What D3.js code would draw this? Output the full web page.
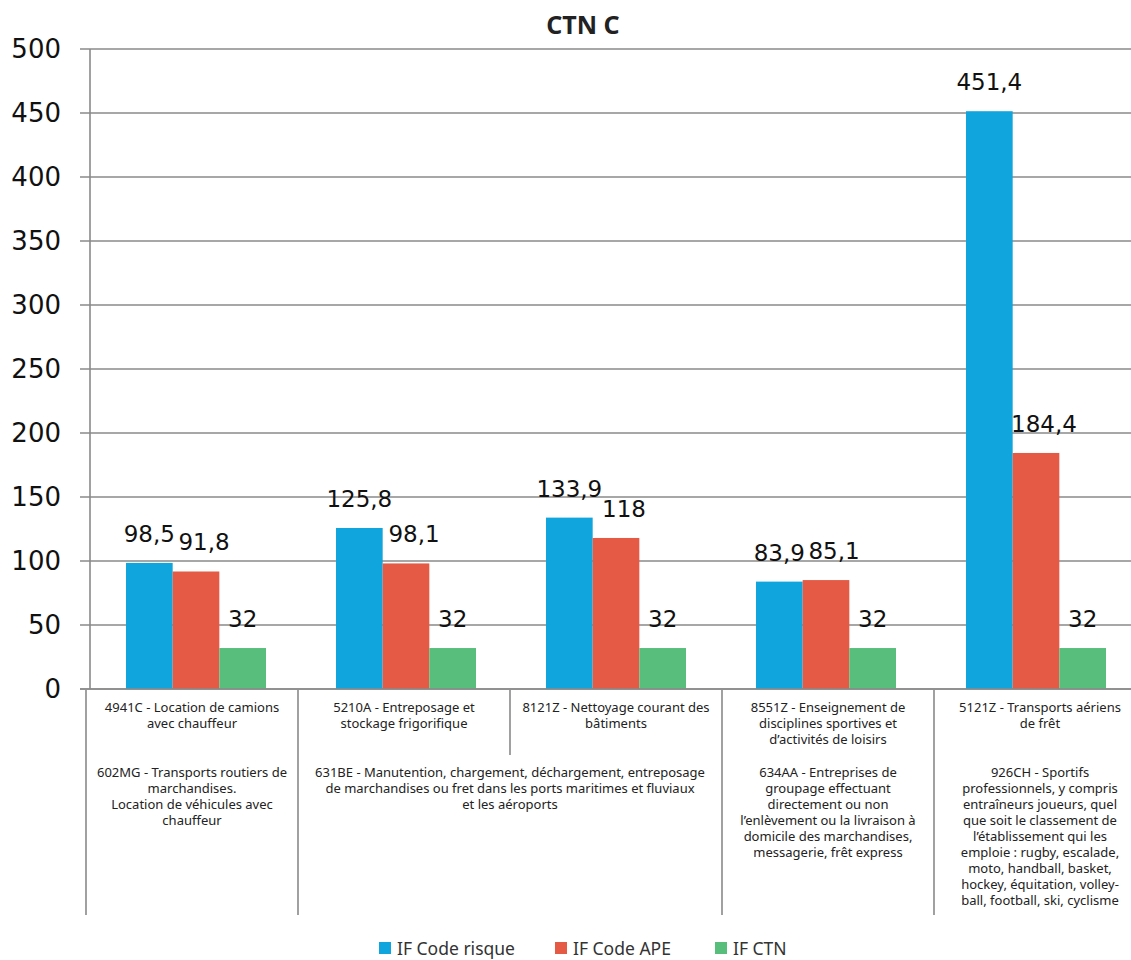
<!DOCTYPE html>
<html>
<head>
<meta charset="utf-8">
<script src="https://cdn.jsdelivr.net/npm/d3@7"></script>
<style>
  body { margin: 0; background: #fff; }
  .cat { font-family: "Noto Sans", sans-serif; font-size: 13px; fill: #222; }
</style>
</head>
<body>
<div id="chart"></div>
<script>
// data
const categories = ['4941C', '5210A', '8121Z', '8551Z', '5121Z'];
const series = ['IF Code risque', 'IF Code APE', 'IF CTN'];
const ifCodeRisque = [98.5, 125.8, 133.9, 83.9, 451.4];
const ifCodeApe = [91.8, 98.1, 118, 85.1, 184.4];
const ifCtn = [32, 32, 32, 32, 32];
const yTicks = [0, 50, 100, 150, 200, 250, 300, 350, 400, 450, 500];

// first level labels (one per category)
const catLabels = [
  ['4941C - Location de camions', 'avec chauffeur'],
  ['5210A - Entreposage et', 'stockage frigorifique'],
  ['8121Z - Nettoyage courant des', 'bâtiments'],
  ['8551Z - Enseignement de', 'disciplines sportives et', 'd’activités de loisirs'],
  ['5121Z - Transports aériens', 'de frêt']
];
// second level labels (spanning categories)
const groupLabels = [
  { from: 0, to: 0, lines: ['602MG - Transports routiers de', 'marchandises.', 'Location de véhicules avec', 'chauffeur'] },
  { from: 1, to: 2, lines: ['631BE - Manutention, chargement, déchargement, entreposage', 'de marchandises ou fret dans les ports maritimes et fluviaux', 'et les aéroports'] },
  { from: 3, to: 3, lines: ['634AA - Entreprises de', 'groupage effectuant', 'directement ou non', 'l’enlèvement ou la livraison à', 'domicile des marchandises,', 'messagerie, frêt express'] },
  { from: 4, to: 4, lines: ['926CH - Sportifs', 'professionnels, y compris', 'entraîneurs joueurs, quel', 'que soit le classement de', 'l’établissement qui les', 'emploie : rugby, escalade,', 'moto, handball, basket,', 'hockey, équitation, volley-', 'ball, football, ski, cyclisme'] }
];

const colors = ['#10a5dd', '#e55a45', '#57bf7b'];
const values = [ifCodeRisque, ifCodeApe, ifCtn];

const width = 1131;
const height = 960;
const plotTop = 49;
const plotBottom = 689;

const svg = d3.select('#chart')
  .append('svg')
  .attr('width', width)
  .attr('height', height);

// scale for the bars
const x = d3.scaleBand()
  .domain(categories)
  .range([91, 91 + 210 * categories.length]);

const x1 = d3.scaleBand()
  .domain(series)
  .range([35, 175]);

// scale for the category label cells
const xCell = d3.scaleBand()
  .domain(categories)
  .range([86, 86 + 212 * categories.length]);

const y = d3.scaleLinear()
  .domain([0, 500])
  .range([plotBottom, plotTop]);

// gridlines
svg.append('g')
  .selectAll('line')
  .data(yTicks)
  .enter().append('line')
  .attr('x1', 80)
  .attr('x2', width)
  .attr('y1', d => y(d))
  .attr('y2', d => y(d))
  .attr('stroke', '#8a8a8a')
  .attr('stroke-width', 1.6);

// y axis line
svg.append('line')
  .attr('x1', 90).attr('x2', 90)
  .attr('y1', y(500)).attr('y2', y(0))
  .attr('stroke', '#8a8a8a')
  .attr('stroke-width', 1.6);

// y tick labels
svg.append('g')
  .selectAll('text')
  .data(yTicks)
  .enter().append('text')
  .attr('x', 61)
  .attr('y', d => y(d) + 9)
  .attr('text-anchor', 'end')
  .style('font-family', 'DejaVu Sans, sans-serif')
  .style('font-size', '26px')
  .style('fill', '#111')
  .text(d => d);

// bars
const groups = svg.selectAll('.grp')
  .data(categories)
  .enter().append('g')
  .attr('class', 'grp')
  .attr('transform', d => `translate(${x(d)},0)`);

series.forEach((s, si) => {
  groups.append('rect')
    .attr('x', x1(s))
    .attr('width', x1.bandwidth())
    .attr('y', (d, i) => y(values[si][i]))
    .attr('height', (d, i) => y(0) - y(values[si][i]))
    .attr('fill', colors[si]);

  groups.append('text')
    .attr('x', x1(s) + x1.bandwidth() / 2 + (si === 1 ? 8 : 0))
    .attr('y', (d, i) => y(values[si][i]) - 21)
    .attr('text-anchor', 'middle')
    .style('font-family', 'DejaVu Sans, sans-serif')
    .style('font-size', '23px')
    .style('fill', '#111')
    .text((d, i) => String(values[si][i]).replace('.', ','));
});

// x axis line
svg.append('line')
  .attr('x1', 80).attr('x2', width)
  .attr('y1', y(0)).attr('y2', y(0))
  .attr('stroke', '#8a8a8a')
  .attr('stroke-width', 1.6);

// separators
const lineColor = '#6e6e6e';
const sepBottom = 915;
const firstBottom = 755;
categories.forEach((c, i) => {
  const xs = xCell(c);
  const full = groupLabels.some(g => g.from === i);
  svg.append('line')
    .attr('x1', xs).attr('x2', xs)
    .attr('y1', y(0) + 1)
    .attr('y2', full ? sepBottom : firstBottom)
    .attr('stroke', lineColor)
    .attr('stroke-width', 1.3);
});

// first level labels
catLabels.forEach((lines, i) => {
  const t = svg.append('text')
    .attr('class', 'cat')
    .attr('text-anchor', 'middle');
  lines.forEach((l, j) => {
    t.append('tspan')
      .attr('x', xCell(categories[i]) + xCell.bandwidth() / 2)
      .attr('y', 712 + j * 16)
      .text(l);
  });
});

// second level labels
groupLabels.forEach(g => {
  const cx = (xCell(categories[g.from]) + xCell(categories[g.to]) + xCell.bandwidth()) / 2;
  const t = svg.append('text')
    .attr('class', 'cat')
    .attr('text-anchor', 'middle');
  g.lines.forEach((l, j) => {
    t.append('tspan')
      .attr('x', cx)
      .attr('y', 777 + j * 16)
      .text(l);
  });
});

// title
svg.append('text')
  .attr('x', 583)
  .attr('y', 34)
  .attr('text-anchor', 'middle')
  .style('font-family', 'Noto Sans, sans-serif')
  .style('font-weight', 'bold')
  .style('font-size', '25px')
  .style('fill', '#222')
  .text('CTN C');

// legend
const legendX = [379, 555, 715];
const legend = svg.selectAll('.leg')
  .data(series)
  .enter().append('g')
  .attr('class', 'leg')
  .attr('transform', (d, i) => `translate(${legendX[i]},942)`);

legend.append('rect')
  .attr('width', 12)
  .attr('height', 12)
  .attr('fill', (d, i) => colors[i]);

legend.append('text')
  .attr('x', 18)
  .attr('y', 12.5)
  .style('font-family', 'Noto Sans, sans-serif')
  .style('font-size', '17.5px')
  .style('fill', '#333')
  .text(d => d);
</script>
</body>
</html>
